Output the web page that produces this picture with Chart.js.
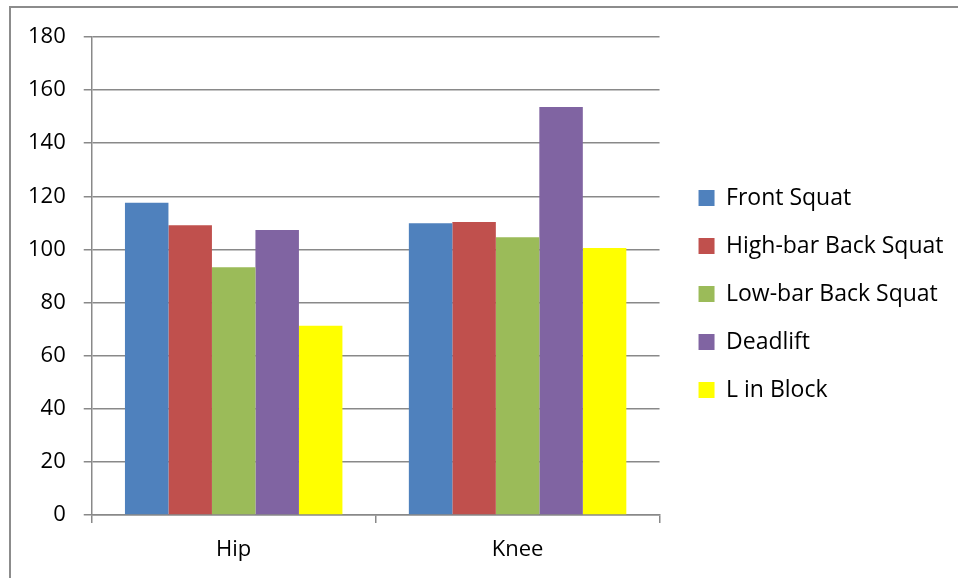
<!DOCTYPE html>
<html>
<head>
<meta charset="utf-8">
<script src="https://cdn.jsdelivr.net/npm/chart.js@4.4.1/dist/chart.umd.min.js"></script>
<style>
  html, body { margin: 0; padding: 0; background: #fff; }
  #wrap { position: relative; width: 958px; height: 578px; overflow: hidden; }
  #frame { position: absolute; left: 9px; top: 6px; right: -10px; bottom: -10px;
           border-left: 2px solid #8c8c8c; border-top: 2px solid #8c8c8c; }
  #myChart { position: absolute; left: 0; top: 0; }
</style>
</head>
<body>
<div id="wrap">
  <div id="frame"></div>
  <canvas id="myChart" width="958" height="578"></canvas>
</div>
<script>
const joints = ['Hip', 'Knee'];

const frontSquat = [117.6, 109.9];
const highBarBackSquat = [109.1, 110.3];
const lowBarBackSquat = [93.3, 104.6];
const deadlift = [107.3, 153.6];
const lInBlock = [71.3, 100.5];

const yTicks = [0, 20, 40, 60, 80, 100, 120, 140, 160, 180];

const lineGrey = '#898989';

Chart.defaults.font.family = "'Open Sans', sans-serif";
Chart.defaults.font.size = 22;
Chart.defaults.color = '#000';

function series(label, data, color) {
    return {
        label: label,
        data: data,
        backgroundColor: color,
        borderWidth: 0,
        barPercentage: 1,
        categoryPercentage: 0.766
    };
}

const ctx = document.getElementById('myChart');

const myChart = new Chart(ctx, {
    type: 'bar',
    data: {
        labels: joints,
        datasets: [
            series('Front Squat', frontSquat, '#4F81BD'),
            series('High-bar Back Squat', highBarBackSquat, '#C0504D'),
            series('Low-bar Back Squat', lowBarBackSquat, '#9BBB59'),
            series('Deadlift', deadlift, '#8064A2'),
            series('L in Block', lInBlock, '#FFFF00')
        ]
    },
    options: {
        responsive: false,
        animation: false,
        layout: {
            padding: { top: 37, bottom: 0.6, left: 10, right: 4.5 }
        },
        plugins: {
            tooltip: { enabled: false },
            legend: {
                position: 'right',
                fullSize: false,
                maxWidth: 400,
                // blank title just pushes the list down a little
                title: { display: true, text: ' ', font: { size: 30 }, padding: 0 },
                labels: {
                    boxWidth: 16,
                    boxHeight: 16,
                    padding: 25,
                    font: { size: 23 }
                }
            }
        },
        scales: {
            x: {
                grid: {
                    drawOnChartArea: false,
                    drawTicks: true,
                    tickLength: 8,
                    color: lineGrey,
                    lineWidth: 1.5
                },
                border: { color: lineGrey, width: 1.5 },
                ticks: { padding: 14 }
            },
            y: {
                min: 0,
                max: 180,
                afterBuildTicks(scale) {
                    scale.ticks = yTicks.map(v => ({ value: v }));
                },
                grid: {
                    color: lineGrey,
                    lineWidth: 1.5,
                    tickLength: 8
                },
                border: { color: lineGrey, width: 1.5 },
                ticks: { padding: 18 }
            },
            // empty strip between the plot and the legend
            gap: {
                type: 'linear',
                position: 'right',
                min: 0,
                max: 1,
                grid: { display: false },
                ticks: { display: false },
                border: { display: false },
                afterFit(scale) { scale.width = 14; }
            }
        }
    }
});
</script>
</body>
</html>
